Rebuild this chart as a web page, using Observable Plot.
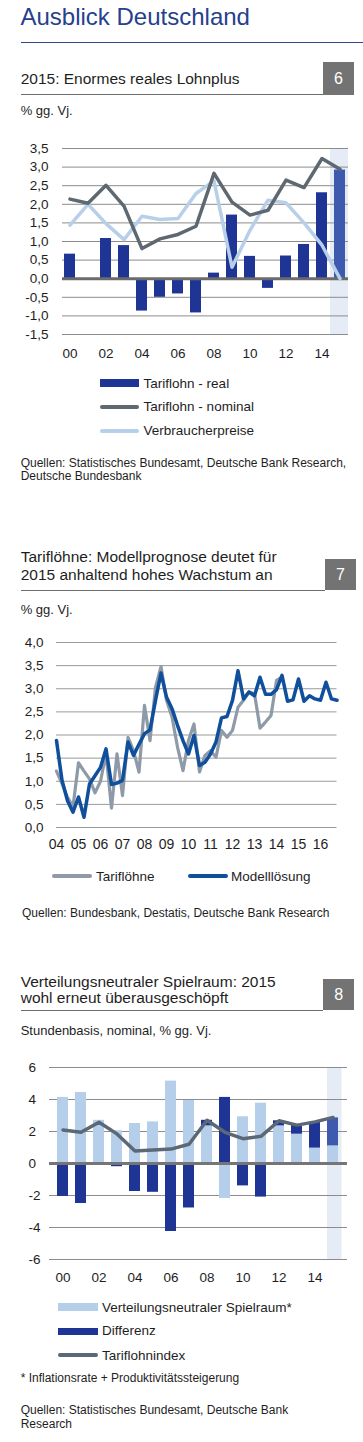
<!DOCTYPE html>
<html><head><meta charset="utf-8">
<script src="https://cdn.jsdelivr.net/npm/d3@7"></script>
<script src="https://cdn.jsdelivr.net/npm/@observablehq/plot@0.6"></script>
<style>
html,body{margin:0;padding:0;background:#fff;}
body{width:363px;height:1442px;position:relative;overflow:hidden;font-family:"Liberation Sans",Arial,Helvetica,sans-serif;color:#1e1e1e;}
.a{position:absolute;white-space:nowrap;line-height:1;}
.rule{position:absolute;height:1px;background:#6e6e6e;}
.box{position:absolute;background:#737373;color:#fff;display:flex;align-items:center;justify-content:center;font-size:16px;}
.sw{position:absolute;}
.chart{position:absolute;left:0;}
</style></head><body>

<div class="a" style="left:20.5px;top:4.7px;font-size:24px;color:#263f8e;">Ausblick Deutschland</div>
<div class="rule" style="left:20.5px;top:42px;width:343px;background:#33458f;"></div>

<!-- Chart 6 -->
<div class="a" style="left:20.7px;top:71.2px;font-size:15.5px;">2015: Enormes reales Lohnplus</div>
<div class="rule" style="left:20.7px;top:94px;width:302px;"></div>
<div class="box" style="left:322.7px;top:62.3px;width:31.7px;height:32.7px;">6</div>
<div class="a" style="left:20.7px;top:104px;font-size:13px;">% gg. Vj.</div>
<div id="c1" class="chart" style="top:125px;"></div>
<div class="sw" style="left:100px;top:379px;width:39px;height:7.5px;background:#1f3596;"></div>
<div class="a" style="left:143.6px;top:376.9px;font-size:13.5px;">Tariflohn - real</div>
<div class="sw" style="left:100px;top:405.3px;width:39px;height:4px;border-radius:2px;background:#5e6870;"></div>
<div class="a" style="left:143.6px;top:400.3px;font-size:13.5px;">Tariflohn - nominal</div>
<div class="sw" style="left:100px;top:428.7px;width:39px;height:4px;border-radius:2px;background:#b7cfe9;"></div>
<div class="a" style="left:143.6px;top:424.3px;font-size:13.5px;">Verbraucherpreise</div>
<div class="a" style="left:20.7px;top:456.5px;font-size:12px;">Quellen: Statistisches Bundesamt, Deutsche Bank Research,</div>
<div class="a" style="left:20.7px;top:469.8px;font-size:12px;">Deutsche Bundesbank</div>

<!-- Chart 7 -->
<div class="a" style="left:20.7px;top:549.2px;font-size:15.5px;">Tariflöhne: Modellprognose deutet für</div>
<div class="a" style="left:20.7px;top:566.9px;font-size:15.5px;">2015 anhaltend hohes Wachstum an</div>
<div class="rule" style="left:20.7px;top:590px;width:304.6px;"></div>
<div class="box" style="left:325.3px;top:559.3px;width:30.4px;height:30.7px;">7</div>
<div class="a" style="left:20.7px;top:603px;font-size:13px;">% gg. Vj.</div>
<div id="c2" class="chart" style="top:625px;"></div>
<div class="sw" style="left:52px;top:873.5px;width:40px;height:4.5px;border-radius:2px;background:#8e9aa8;"></div>
<div class="a" style="left:96px;top:870.3px;font-size:13.5px;">Tariflöhne</div>
<div class="sw" style="left:188px;top:873.5px;width:40px;height:4.5px;border-radius:2px;background:#0f4f9c;"></div>
<div class="a" style="left:231px;top:870.3px;font-size:13.5px;">Modelllösung</div>
<div class="a" style="left:22px;top:906.5px;font-size:12px;">Quellen: Bundesbank, Destatis, Deutsche Bank Research</div>

<!-- Chart 8 -->
<div class="a" style="left:20.7px;top:973.6px;font-size:15.5px;">Verteilungsneutraler Spielraum: 2015</div>
<div class="a" style="left:20.7px;top:989.9px;font-size:15.5px;">wohl erneut überausgeschöpft</div>
<div class="rule" style="left:20.7px;top:1010px;width:302.6px;"></div>
<div class="box" style="left:323.3px;top:979px;width:31px;height:31px;">8</div>
<div class="a" style="left:20.7px;top:1023.5px;font-size:13px;">Stundenbasis, nominal, % gg. Vj.</div>
<div id="c3" class="chart" style="top:1050px;"></div>
<div class="sw" style="left:58.3px;top:1302.7px;width:39.4px;height:8.3px;background:#b5cfeb;"></div>
<div class="a" style="left:102px;top:1300.9px;font-size:13.5px;">Verteilungsneutraler Spielraum*</div>
<div class="sw" style="left:58.3px;top:1327.5px;width:39.4px;height:7px;background:#1f3596;"></div>
<div class="a" style="left:102px;top:1324.3px;font-size:13.5px;">Differenz</div>
<div class="sw" style="left:58.3px;top:1353px;width:39.4px;height:4px;border-radius:2px;background:#5b6876;"></div>
<div class="a" style="left:102px;top:1348.6px;font-size:13.5px;">Tariflohnindex</div>
<div class="a" style="left:20.7px;top:1371.5px;font-size:12px;">* Inflationsrate + Produktivitätssteigerung</div>
<div class="a" style="left:20.7px;top:1404.1px;font-size:12px;">Quellen: Statistisches Bundesamt, Deutsche Bank</div>
<div class="a" style="left:20.7px;top:1417.5px;font-size:12px;">Research</div>

<script>
// ---------- Chart 6 data ----------
const years1 = ["00","01","02","03","04","05","06","07","08","09","10","11","12","13","14","15"];
const tariflohnReal = [0.66, 0.0, 1.08, 0.89, -0.87, -0.5, -0.41, -0.92, 0.15, 1.71, 0.6, -0.26, 0.61, 0.92, 2.31, 2.92];
const tariflohnNominal = [2.14, 2.03, 2.51, 1.95, 0.81, 1.07, 1.19, 1.41, 2.83, 2.06, 1.71, 1.84, 2.65, 2.45, 3.23, 2.94];
const verbraucherpreise = [1.44, 2.0, 1.48, 1.05, 1.68, 1.59, 1.62, 2.29, 2.63, 0.31, 1.3, 2.11, 2.04, 1.5, 0.9, 0.0];
const forecastYear = ["15"];
const yTicks1 = [-1.5, -1, -0.5, 0, 0.5, 1, 1.5, 2, 2.5, 3, 3.5];
const xTicks1 = ["00","02","04","06","08","10","12","14"];

// ---------- Chart 7 data (quarterly, starting 2004 Q1) ----------
const startYear2 = 2004;
const tarifloehne = [
  1.22, 0.95, 0.65, 0.45,
  1.40, 1.22, 1.05, 0.75,
  1.00, 1.60, 0.42, 1.59,
  0.69, 1.95, 1.66, 1.20,
  2.64, 1.88, 3.03, 3.48,
  2.75, 2.39, 1.74, 1.23,
  1.88, 2.24, 1.20, 1.56,
  1.66, 1.52, 2.10, 1.95,
  2.10, 2.60, 2.75, 2.93,
  2.89, 2.15, 2.28, 2.42,
  3.18, 3.25
];
const modellloesung = [
  1.88, 1.02, 0.58, 0.33,
  0.66, 0.22, 0.94, 1.12,
  1.30, 1.70, 0.93, 0.96,
  1.02, 1.85, 1.56, 1.80,
  2.03, 2.11, 2.75, 3.34,
  2.82, 2.57, 2.21, 1.88,
  1.59, 1.99, 1.34, 1.41,
  1.59, 1.85, 2.37, 2.40,
  2.75, 3.39, 2.78, 2.93,
  2.85, 3.25, 2.88, 2.88,
  2.98, 3.29, 2.73, 2.76,
  3.21, 2.73, 2.85, 2.78,
  2.75, 3.14, 2.78, 2.75
];
const yTicks2 = [0, 0.5, 1, 1.5, 2, 2.5, 3, 3.5, 4];
const xTicks2 = [2004,2005,2006,2007,2008,2009,2010,2011,2012,2013,2014,2015,2016];

// ---------- Chart 8 data ----------
const years3 = ["00","01","02","03","04","05","06","07","08","09","10","11","12","13","14","15"];
const spielraum = [4.13, 4.44, 2.7, 2.05, 2.5, 2.6, 5.15, 3.94, 2.35, -2.19, 2.92, 3.77, 2.35, 1.83, 0.96, 1.1];
const differenz = [-2.06, -2.5, -0.12, -0.2, -1.75, -1.8, -4.25, -2.78, 0.35, 4.13, -1.4, -2.1, 0.32, 0.57, 1.62, 1.75];
const tariflohnindex = [2.1, 1.95, 2.58, 1.85, 0.78, 0.85, 0.9, 1.2, 2.7, 1.95, 1.55, 1.7, 2.67, 2.4, 2.6, 2.88];
const yTicks3 = [-6, -4, -2, 0, 2, 4, 6];
const xTicks3 = ["00","02","04","06","08","10","12","14"];

const FONT = '"Liberation Sans", Arial, Helvetica, sans-serif';
const comma1 = d => d.toFixed(1).replace(".", ",");
const DARK = "#1f3596", FORE = "#3d5aae", SHADE = "#e5ecf6";

// ---------- Chart 6 ----------
const tbl1 = years1.map((y, i) => ({year: y, real: tariflohnReal[i], nominal: tariflohnNominal[i], cpi: verbraucherpreise[i]}));
const c1 = Plot.plot({
  width: 363, height: 240,
  marginTop: 23, marginBottom: 31, marginLeft: 62, marginRight: 15,
  style: {fontFamily: FONT, fontSize: "13.5px", color: "#1e1e1e", background: "transparent"},
  x: {type: "band", domain: years1, paddingInner: 0.387, paddingOuter: 0.111},
  y: {domain: [-1.5, 3.5]},
  color: {type: "identity"},
  marks: [
    Plot.barY(forecastYear, {x: d => d, y1: -1.5, y2: 3.5, fill: SHADE, insetLeft: -4, insetRight: -3}),
    Plot.gridY(yTicks1, {stroke: "#8c8c8c", strokeOpacity: 1}),
    Plot.axisY(yTicks1, {tickSize: 0, tickPadding: 14, tickFormat: comma1, label: null}),
    Plot.axisX(xTicks1, {tickSize: 0, tickPadding: 14, label: null}),
    Plot.barY(tbl1, {x: "year", y: "real", fill: d => forecastYear.includes(d.year) ? FORE : DARK}),
    Plot.ruleY([0], {stroke: "#6b6b6b", strokeWidth: 3}),
    Plot.line(tbl1, {x: "year", y: "cpi", stroke: "#b7cfe9", strokeWidth: 3.5}),
    Plot.line(tbl1, {x: "year", y: "nominal", stroke: "#5e6870", strokeWidth: 3.5})
  ]
});
document.getElementById("c1").append(c1);

// ---------- Chart 7 ----------
const q = i => startYear2 + i / 4;
const tbl2a = tarifloehne.map((v, i) => ({t: q(i), v}));
const tbl2b = modellloesung.map((v, i) => ({t: q(i), v}));
const c2 = Plot.plot({
  width: 363, height: 235,
  marginTop: 17, marginBottom: 33, marginLeft: 56, marginRight: 26.5,
  style: {fontFamily: FONT, fontSize: "13.5px", color: "#1e1e1e", background: "transparent"},
  x: {domain: [2004, 2016.75]},
  y: {domain: [0, 4]},
  marks: [
    Plot.gridY(yTicks2, {stroke: "#9a9a9a", strokeOpacity: 1}),
    Plot.axisY(yTicks2, {tickSize: 0, tickPadding: 13, tickFormat: comma1, label: null}),
    Plot.axisX(xTicks2, {tickSize: 0, tickPadding: 12, tickFormat: d => String(d).slice(2), label: null, fontSize: 14}),
    Plot.line(tbl2a, {x: "t", y: "v", stroke: "#8e9aa8", strokeWidth: 3.2}),
    Plot.line(tbl2b, {x: "t", y: "v", stroke: "#0f4f9c", strokeWidth: 3.5})
  ]
});
document.getElementById("c2").append(c2);

// ---------- Chart 8 ----------
const tbl3 = [];
years3.forEach((y, i) => {
  tbl3.push({year: y, series: "Spielraum", value: spielraum[i]});
  tbl3.push({year: y, series: "Differenz", value: differenz[i]});
});
const tbl3line = years3.map((y, i) => ({year: y, v: tariflohnindex[i]}));
const c3 = Plot.plot({
  width: 363, height: 240,
  marginTop: 17, marginBottom: 31, marginLeft: 49, marginRight: 16,
  style: {fontFamily: FONT, fontSize: "13.5px", color: "#1e1e1e", background: "transparent"},
  x: {type: "band", domain: years3, paddingInner: 0.384, paddingOuter: 0.19},
  y: {domain: [-6, 6]},
  color: {type: "identity"},
  marks: [
    Plot.barY(forecastYear, {x: d => d, y1: -6, y2: 6, fill: SHADE, insetLeft: 0, insetRight: -3.5}),
    Plot.gridY(yTicks3, {stroke: "#8c8c8c", strokeOpacity: 1}),
    Plot.axisY(yTicks3, {tickSize: 0, tickPadding: 0, textAnchor: "start", dx: -21, tickFormat: d => String(d), label: null}),
    Plot.axisX(xTicks3, {tickSize: 0, tickPadding: 13, label: null}),
    Plot.barY(tbl3, {x: "year", y: "value", fill: d => d.series === "Spielraum" ? "#b5cfeb" : (forecastYear.includes(d.year) ? FORE : DARK)}),
    Plot.ruleY([0], {stroke: "#757575", strokeWidth: 3}),
    Plot.line(tbl3line, {x: "year", y: "v", stroke: "#5b6876", strokeWidth: 3.5})
  ]
});
document.getElementById("c3").append(c3);
</script>
</body></html>
